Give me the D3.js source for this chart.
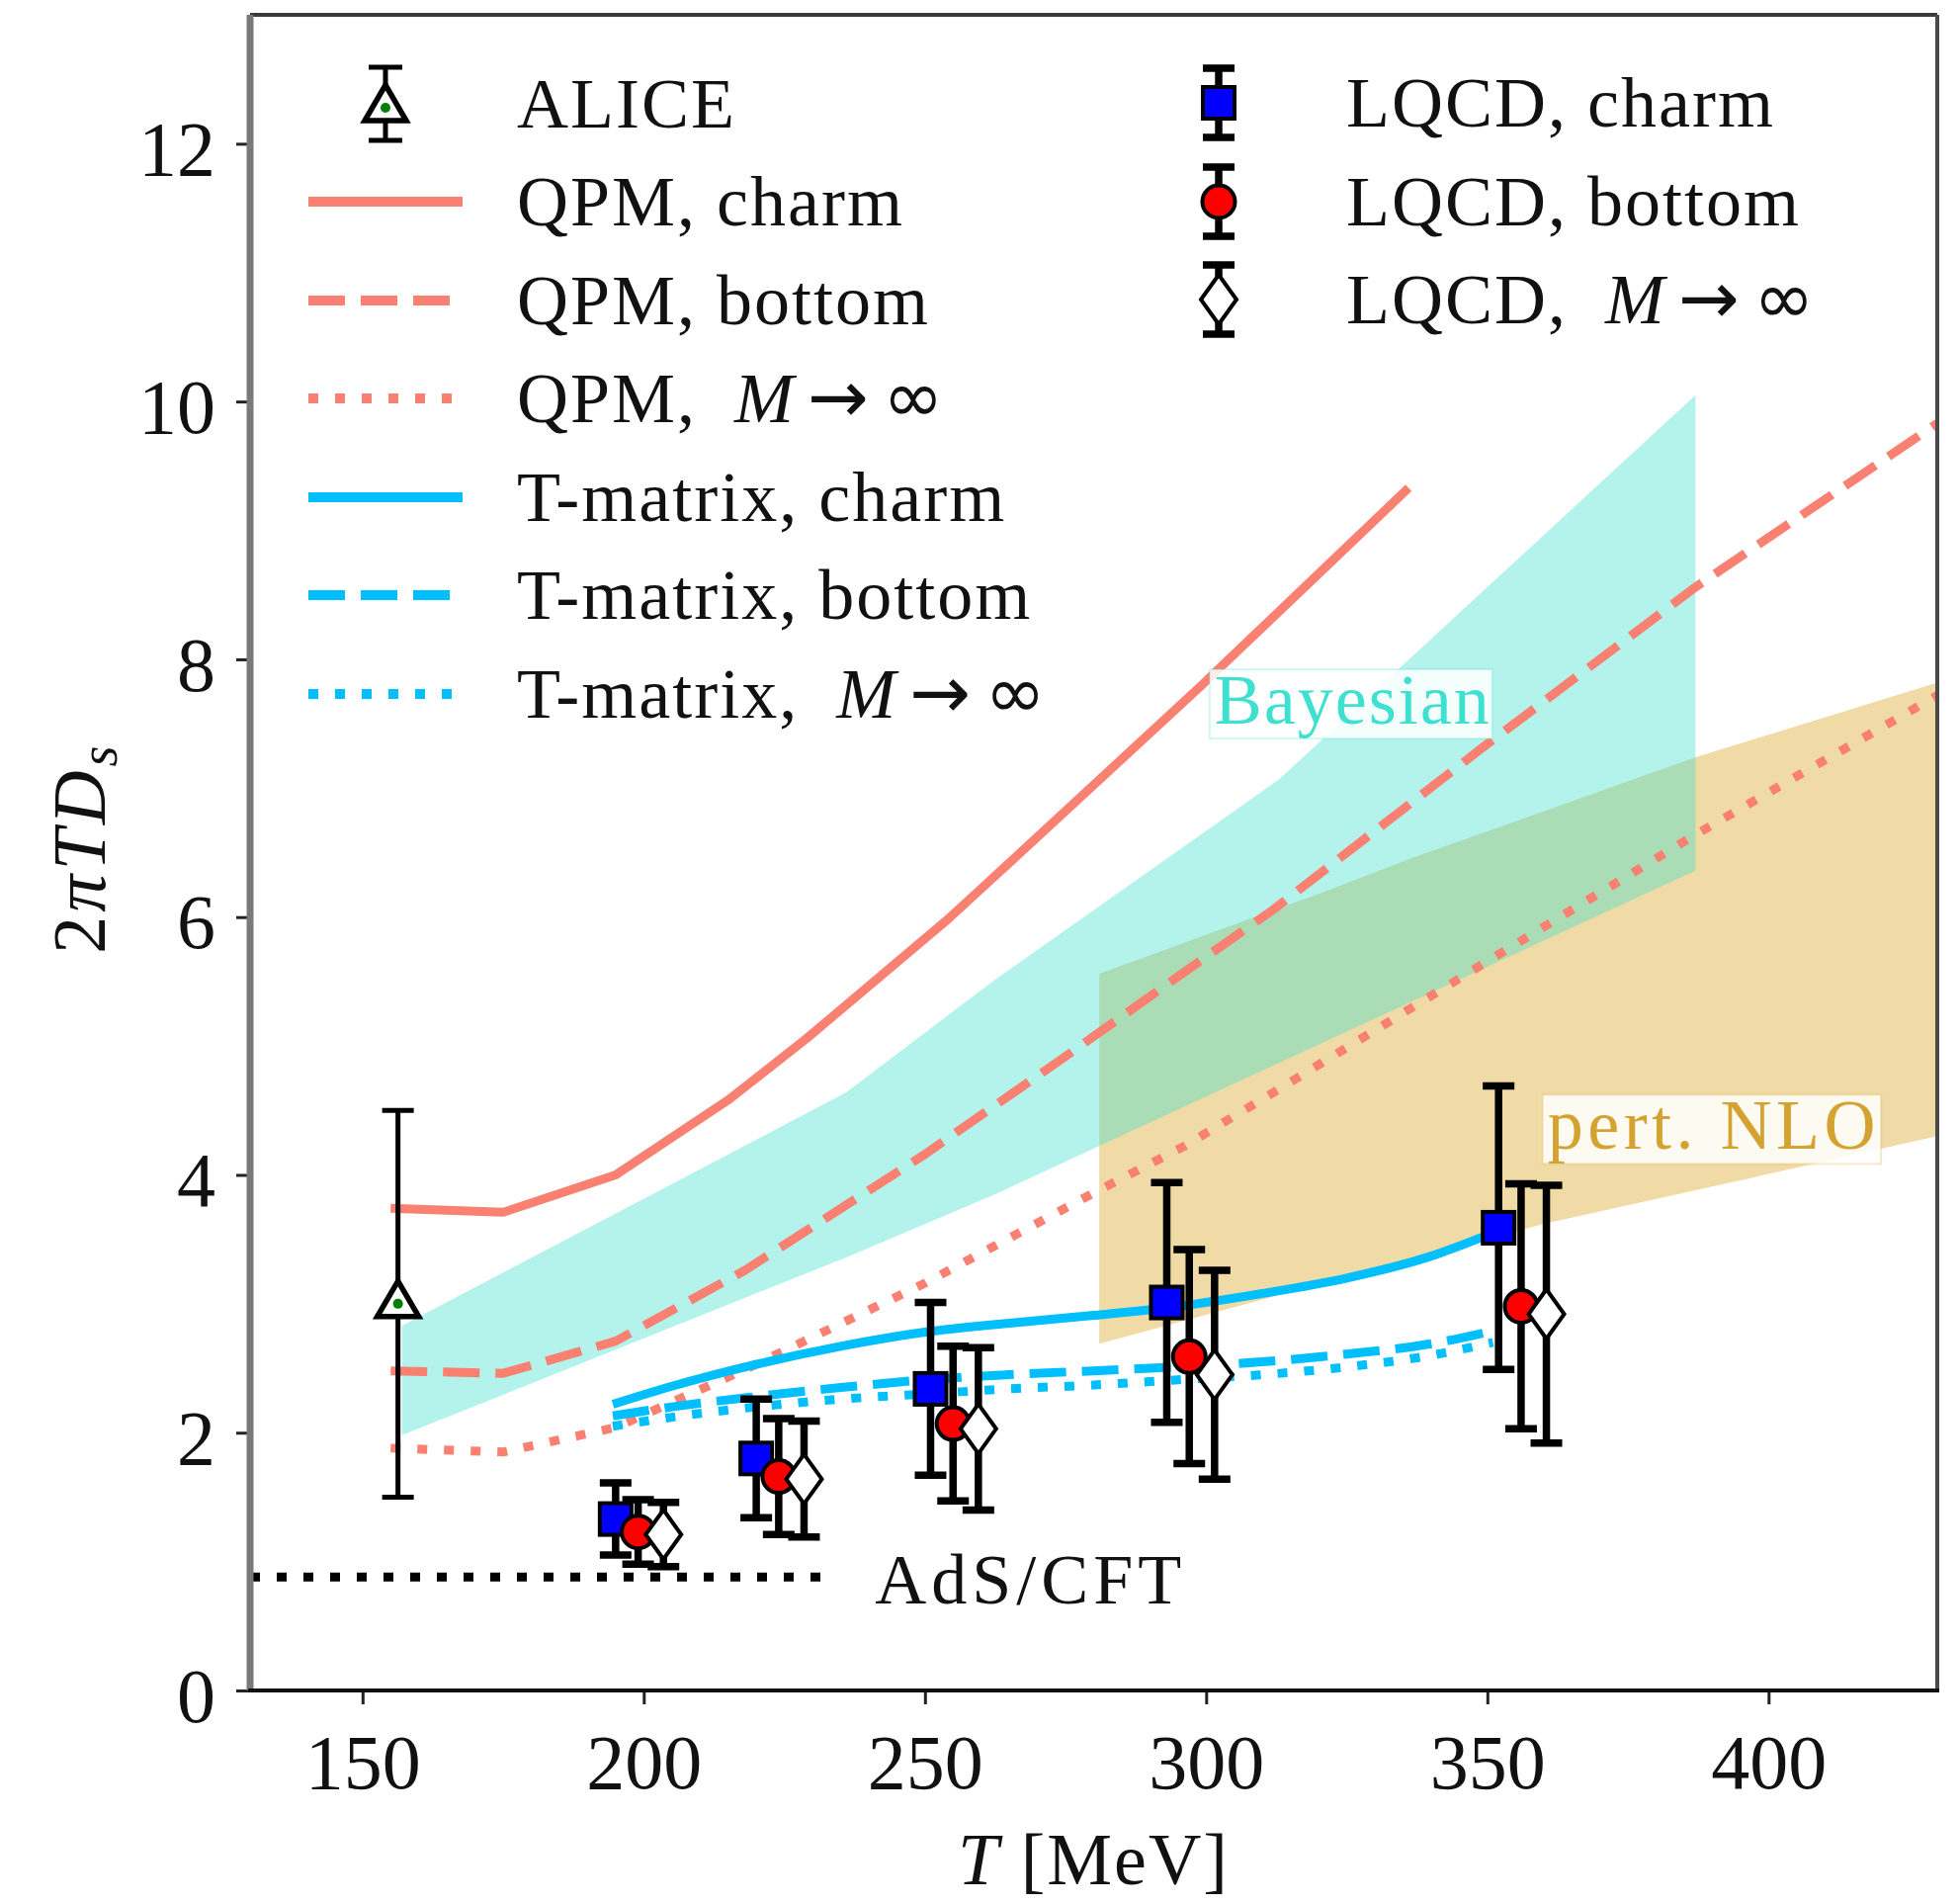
<!DOCTYPE html>
<html>
<head>
<meta charset="utf-8">
<script src="https://cdn.jsdelivr.net/npm/d3@7"></script>
<style>
body { margin: 0; background: #fff; }
text { font-family: "Liberation Serif", "DejaVu Serif", serif; fill: #111; }
</style>
</head>
<body>
<div id="chart-area"></div>
<script>
// ---- data ----
var xTicks = [150, 200, 250, 300, 350, 400];
var yTicks = [0, 2, 4, 6, 8, 10, 12];

// QPM curves
var qpmCharmT  = [155, 175, 195, 215, 229, 254, 261, 299, 336];
var qpmCharm   = [3.74, 3.71, 4.0, 4.58, 5.06, 5.98, 6.26, 7.79, 9.33];
var qpmBottomT = [155, 175, 195, 218, 250, 276, 296, 312, 349, 387, 430];
var qpmBottom  = [2.48, 2.46, 2.71, 3.26, 4.16, 4.95, 5.57, 6.06, 7.31, 8.56, 9.83];
var qpmInfT    = [155, 175, 195, 219, 250, 280, 296, 312, 349, 387, 430];
var qpmInf     = [1.88, 1.85, 2.04, 2.51, 3.16, 3.86, 4.22, 4.64, 5.63, 6.64, 7.72];

// T-matrix curves
var tmatT      = [194.5, 205, 220, 235, 250, 265, 280, 295, 310, 325, 340, 351];
var tmatCharm  = [2.22, 2.36, 2.53, 2.67, 2.78, 2.85, 2.91, 2.98, 3.08, 3.2, 3.37, 3.55];
var tmatBottom = [2.13, 2.2, 2.28, 2.35, 2.41, 2.45, 2.48, 2.51, 2.55, 2.61, 2.69, 2.79];
var tmatInf    = [2.05, 2.12, 2.2, 2.26, 2.3, 2.34, 2.37, 2.41, 2.45, 2.51, 2.6, 2.7];

// bands
var bayesT  = [157, 236, 262, 313, 387];
var bayesLo = [1.98, 3.36, 3.84, 4.87, 6.36];
var bayesHi = [2.83, 4.64, 5.50, 7.07, 10.05];
var nloT  = [281, 320, 338, 360, 387, 430];
var nloLo = [2.69, 3.15, 3.36, 3.62, 3.88, 4.30];
var nloHi = [5.56, 6.18, 6.48, 6.82, 7.24, 7.82];

// AdS/CFT
var adsT = [130, 232];
var adsD = [0.88, 0.88];

// ALICE
var aliceT = [156.3], aliceD = [3.0], aliceErr = [1.5];

// LQCD
var lqcdCharmT  = [195, 220, 251, 293, 352];
var lqcdCharm   = [1.33, 1.80, 2.34, 3.01, 3.59];
var lqcdCharmE  = [0.28, 0.46, 0.67, 0.93, 1.1];
var lqcdBottomT = [199, 224, 255, 297, 356];
var lqcdBottom  = [1.23, 1.66, 2.07, 2.59, 2.98];
var lqcdBottomE = [0.25, 0.45, 0.6, 0.83, 0.95];
var lqcdInfT    = [203.5, 228.5, 259.5, 301.5, 360.5];
var lqcdInf     = [1.21, 1.64, 2.03, 2.45, 2.92];
var lqcdInfE    = [0.25, 0.45, 0.63, 0.81, 1.0];

// ---- layout ----
var W = 1983, H = 1926;
var margin = {top: 15, right: 23, bottom: 216, left: 253};
var salmon = "#fa8072", sky = "#00bfff";
var LW = 9;
var dashed = "37,16", dotted = "10,17";

var svg = d3.select("#chart-area").append("svg")
    .attr("width", W)
    .attr("height", H);

var x = d3.scaleLinear().domain([130, 430]).range([margin.left, W - margin.right]);
var y = d3.scaleLinear().domain([0, 13]).range([H - margin.bottom, margin.top]);

svg.append("clipPath").attr("id", "clip")
    .append("rect")
    .attr("x", x(130)).attr("y", y(13))
    .attr("width", x(430) - x(130)).attr("height", y(0) - y(13));

var plot = svg.append("g").attr("clip-path", "url(#clip)");

function zip(ts, vs) { return ts.map((t, i) => [t, vs[i]]); }

// bands (NLO underneath, Bayesian on top -> greenish overlap)
function band(ts, lo, hi, color) {
    var area = d3.area()
        .x((d) => x(d[0]))
        .y0((d) => y(d[1]))
        .y1((d) => y(d[2]));
    plot.append("path")
        .datum(ts.map((t, i) => [t, lo[i], hi[i]]))
        .attr("d", area)
        .attr("fill", color)
        .attr("fill-opacity", 0.4);
}
band(nloT, nloLo, nloHi, "#daa520");
band(bayesT, bayesLo, bayesHi, "#40e0d0");

// lines
function curve(ts, vs, color, dash, smooth) {
    var line = d3.line()
        .x((d) => x(d[0]))
        .y((d) => y(d[1]))
        .curve(smooth ? d3.curveMonotoneX : d3.curveLinear);
    plot.append("path")
        .datum(zip(ts, vs))
        .attr("d", line)
        .attr("fill", "none")
        .attr("stroke", color)
        .attr("stroke-width", LW)
        .attr("stroke-dasharray", dash)
        .attr("stroke-linejoin", "round");
}
curve(qpmCharmT, qpmCharm, salmon, null, false);
curve(qpmBottomT, qpmBottom, salmon, dashed, false);
curve(qpmInfT, qpmInf, salmon, dotted, false);
curve(tmatT, tmatCharm, sky, null, true);
curve(tmatT, tmatBottom, sky, dashed, true);
curve(tmatT, tmatInf, sky, dotted, true);
curve(adsT, adsD, "#000", dotted, false);

// band / model labels
function boxLabel(t, v, str, color, spacing, pad) {
    var g = svg.append("g");
    var rect = g.append("rect");
    var txt = g.append("text")
        .attr("x", x(t)).attr("y", y(v))
        .attr("font-size", 72)
        .attr("letter-spacing", spacing)
        .style("fill", color)
        .text(str);
    if (pad) {
        var w = txt.node().getComputedTextLength();
        rect.attr("x", x(t) - 5).attr("y", y(v) - 55)
            .attr("width", w + 6).attr("height", 70)
            .attr("fill", "#fff").attr("fill-opacity", 0.85)
            .attr("stroke", color).attr("stroke-opacity", 0.25).attr("stroke-width", 2);
    }
}
boxLabel(301.5, 7.5, "Bayesian", "#40e0d0", 2, true);
boxLabel(360.7, 4.2, "pert. NLO", "#d4a230", 4.5, true);
boxLabel(241.1, 0.675, "AdS/CFT", "#111", 5, false);

// markers
function marker(g, type, cx, cy) {
    if (type === "square") {
        g.append("rect").attr("x", cx - 16).attr("y", cy - 16)
            .attr("width", 32).attr("height", 32)
            .attr("fill", "#0000ff").attr("stroke", "#000").attr("stroke-width", 4);
    } else if (type === "circle") {
        g.append("circle").attr("cx", cx).attr("cy", cy).attr("r", 16.5)
            .attr("fill", "#ff0000").attr("stroke", "#000").attr("stroke-width", 4);
    } else if (type === "diamond") {
        g.append("path")
            .attr("d", `M${cx},${cy - 25}L${cx + 18},${cy}L${cx},${cy + 25}L${cx - 18},${cy}Z`)
            .attr("fill", "#fff").attr("stroke", "#000").attr("stroke-width", 4);
    } else if (type === "triangle") {
        g.append("path")
            .attr("d", `M${cx},${cy - 23}L${cx + 21},${cy + 13}L${cx - 21},${cy + 13}Z`)
            .attr("fill", "#fff").attr("stroke", "#000").attr("stroke-width", 5.5)
            .attr("stroke-linejoin", "miter");
        g.append("circle").attr("cx", cx).attr("cy", cy).attr("r", 5).attr("fill", "#008000");
    }
}

function errBar(g, cx, yTop, yBot, lw, cap) {
    g.append("line").attr("x1", cx).attr("x2", cx).attr("y1", yTop).attr("y2", yBot)
        .attr("stroke", "#000").attr("stroke-width", lw);
    [yTop, yBot].forEach((yy) => {
        g.append("line").attr("x1", cx - cap).attr("x2", cx + cap).attr("y1", yy).attr("y2", yy)
            .attr("stroke", "#000").attr("stroke-width", lw);
    });
}

function series(ts, vs, es, type, lw) {
    var g = plot.append("g");
    ts.forEach((t, i) => {
        errBar(g, x(t), y(vs[i] + es[i]), y(vs[i] - es[i]), lw, 16);
    });
    ts.forEach((t, i) => marker(g, type, x(t), y(vs[i])));
}
series(aliceT, aliceD, aliceErr, "triangle", 5);
series(lqcdCharmT, lqcdCharm, lqcdCharmE, "square", 7.5);
series(lqcdBottomT, lqcdBottom, lqcdBottomE, "circle", 7.5);
series(lqcdInfT, lqcdInf, lqcdInfE, "diamond", 7.5);

// axes
var xAxis = svg.append("g")
    .attr("transform", `translate(0,${y(0)})`)
    .call(d3.axisBottom(x).tickValues(xTicks).tickSize(14).tickPadding(30).tickFormat(d3.format("d")));
var yAxis = svg.append("g")
    .attr("transform", `translate(${x(130)},0)`)
    .call(d3.axisLeft(y).tickValues(yTicks).tickSize(14).tickPadding(21).tickFormat(d3.format("d")));
[xAxis, yAxis].forEach((a) => {
    a.select(".domain").remove();
    a.selectAll(".tick line").attr("stroke", "#222").attr("stroke-width", 3);
    a.selectAll(".tick text")
        .attr("font-size", 78)
        .attr("font-family", "'Liberation Serif', serif")
        .style("fill", "#111");
});
yAxis.selectAll(".tick text").attr("dy", "0.4em");

// frame: each spine drawn separately
var x0 = x(130), x1 = x(430), y0 = y(0), y1 = y(13);
[[x0, y1, x1, y1, "#3a3a3a", 4],
 [x1, y1, x1, y0, "#4a4a4a", 4],
 [x0, y1, x0, y0, "#7a7a7a", 7],
 [x0 - 2, y0, x1 + 2, y0, "#111", 4]].forEach((s) => {
    svg.append("line")
        .attr("x1", s[0]).attr("y1", s[1]).attr("x2", s[2]).attr("y2", s[3])
        .attr("stroke", s[4]).attr("stroke-width", s[5]);
});

// axis labels
var xl = svg.append("text")
    .attr("x", (x0 + x1) / 2).attr("y", 1906)
    .attr("text-anchor", "middle").attr("font-size", 74).attr("letter-spacing", 2);
xl.append("tspan").attr("font-style", "italic").text("T");
xl.append("tspan").text(" [MeV]");

var yl = svg.append("text")
    .attr("transform", `translate(106,${(y0 + y1) / 2 - 5}) rotate(-90)`)
    .attr("text-anchor", "middle").attr("font-size", 76).attr("letter-spacing", 4);
yl.append("tspan").text("2");
yl.append("tspan").attr("font-style", "italic").text("πTD");
yl.append("tspan").attr("font-style", "italic").attr("font-size", 54).attr("dy", 12).text("s");

// legend
var legLeft = [
    {kind: "triangle", label: "ALICE"},
    {kind: "line", color: salmon, dash: null, label: "QPM, charm"},
    {kind: "line", color: salmon, dash: dashed, label: "QPM, bottom"},
    {kind: "line", color: salmon, dash: dotted, label: "QPM,", math: true},
    {kind: "line", color: sky, dash: null, label: "T-matrix, charm"},
    {kind: "line", color: sky, dash: dashed, label: "T-matrix, bottom"},
    {kind: "line", color: sky, dash: dotted, label: "T-matrix,", math: true}
];
var legLeftY = [105, 204, 304, 403, 503, 602, 702];
var legRight = [
    {kind: "square", label: "LQCD, charm"},
    {kind: "circle", label: "LQCD, bottom"},
    {kind: "diamond", label: "LQCD,", math: true}
];
var legRightY = [104, 204, 303];

var leg = svg.append("g");
function legText(tx, ty, item) {
    var t = leg.append("text").attr("x", tx).attr("y", ty + 24)
        .attr("font-size", 72).attr("letter-spacing", 2);
    t.append("tspan").text(item.label);
    if (item.math) {
        t.append("tspan").attr("dx", 38).attr("font-style", "italic").text("M");
        t.append("tspan").attr("dx", 12)
            .attr("font-family", "'DejaVu Sans', sans-serif").attr("font-size", 74)
            .attr("letter-spacing", 14).text("\u2192\u221e");
    }
}
legLeft.forEach((d, i) => {
    var cy = legLeftY[i];
    if (d.kind === "line") {
        leg.append("line").attr("x1", 312).attr("x2", 468).attr("y1", cy).attr("y2", cy)
            .attr("stroke", d.color).attr("stroke-width", LW + 1)
            .attr("stroke-dasharray", d.dash);
    } else {
        errBar(leg, 390, cy - 37, cy + 37, 5, 17);
        marker(leg, d.kind, 390, cy + 4);
    }
    legText(523, cy, d);
});
legRight.forEach((d, i) => {
    var cy = legRightY[i];
    errBar(leg, 1233, cy - 35, cy + 35, 7.5, 16);
    marker(leg, d.kind, 1233, cy);
    legText(1362, cy, d);
});
</script>
</body>
</html>
